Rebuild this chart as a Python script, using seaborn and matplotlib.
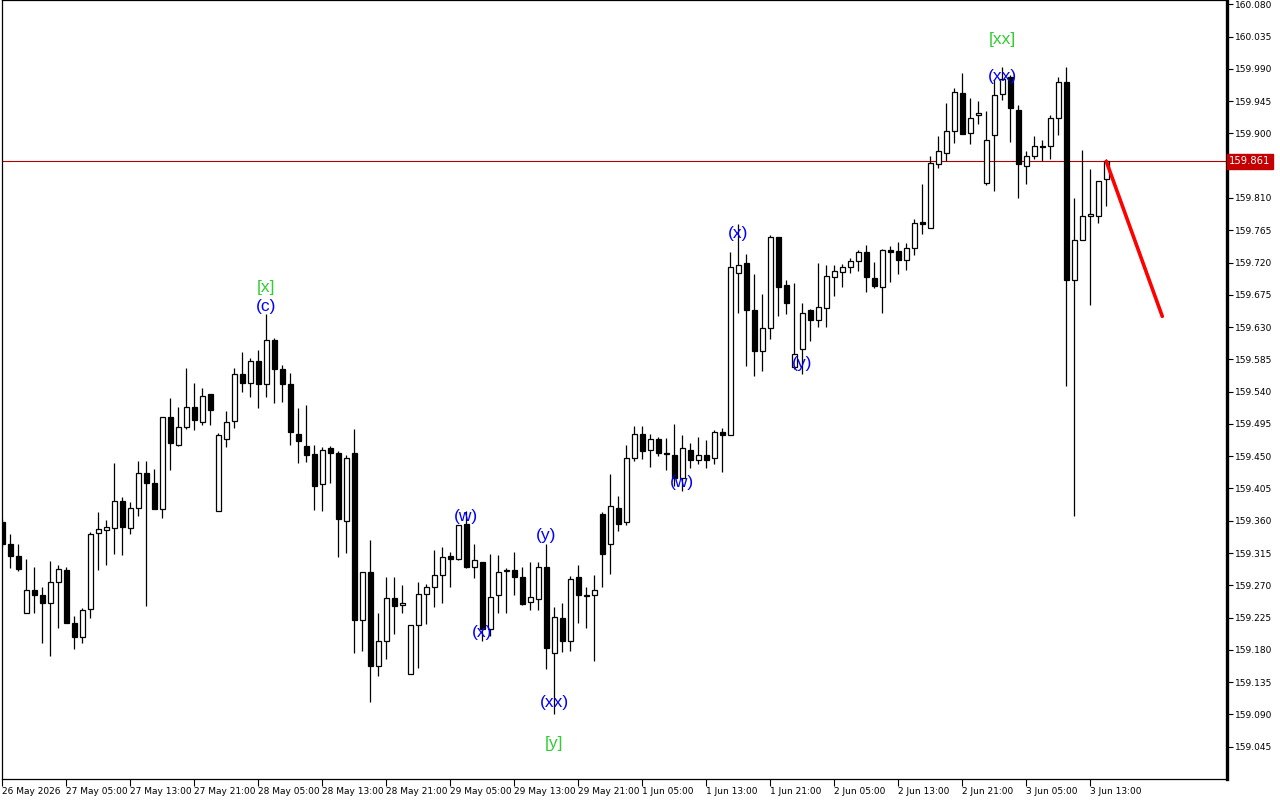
import numpy as np
import pandas as pd
import matplotlib
matplotlib.use("Agg")
import matplotlib.pyplot as plt
import matplotlib.transforms as mtransforms
import seaborn as sns

# H1 candles, oldest first
opens = [159.358, 159.328, 159.311, 159.232, 159.263, 159.257, 159.246, 159.275, 159.292, 159.218,
         159.198, 159.237, 159.343, 159.347, 159.350, 159.388, 159.350, 159.378, 159.427, 159.412,
         159.376, 159.505, 159.466, 159.491, 159.519, 159.497, 159.537, 159.374, 159.474, 159.499,
         159.564, 159.552, 159.583, 159.551, 159.612, 159.572, 159.551, 159.481, 159.464, 159.453,
         159.411, 159.461, 159.455, 159.360, 159.455, 159.222, 159.288, 159.157, 159.193, 159.253,
         159.243, 159.147, 159.215, 159.258, 159.268, 159.285, 159.311, 159.307, 159.356, 159.296,
         159.303, 159.209, 159.257, 159.291, 159.292, 159.282, 159.247, 159.251, 159.296, 159.176,
         159.225, 159.193, 159.281, 159.257, 159.257, 159.370, 159.327, 159.378, 159.358, 159.448,
         159.481, 159.459, 159.474, 159.455, 159.452, 159.420, 159.459, 159.445, 159.451, 159.447,
         159.484, 159.480, 159.705, 159.719, 159.654, 159.597, 159.629, 159.755, 159.688, 159.574,
         159.600, 159.654, 159.640, 159.657, 159.700, 159.707, 159.714, 159.722, 159.735, 159.699,
         159.686, 159.737, 159.736, 159.723, 159.740, 159.776, 159.768, 159.858, 159.873, 159.903,
         159.957, 159.900, 159.925, 159.831, 159.898, 159.955, 159.978, 159.932, 159.854, 159.868,
         159.882, 159.883, 159.922, 159.972, 159.695, 159.751, 159.785, 159.785, 159.836]
highs = [159.362, 159.341, 159.328, 159.307, 159.296, 159.268, 159.304, 159.299, 159.296, 159.227,
         159.239, 159.344, 159.372, 159.361, 159.440, 159.393, 159.386, 159.443, 159.443, 159.432,
         159.505, 159.531, 159.519, 159.573, 159.552, 159.545, 159.537, 159.483, 159.513, 159.573,
         159.595, 159.587, 159.598, 159.648, 159.615, 159.577, 159.566, 159.517, 159.521, 159.465,
         159.463, 159.464, 159.457, 159.452, 159.488, 159.289, 159.333, 159.232, 159.281, 159.282,
         159.270, 159.214, 159.275, 159.272, 159.319, 159.324, 159.316, 159.354, 159.373, 159.327,
         159.303, 159.313, 159.312, 159.294, 159.316, 159.296, 159.302, 159.303, 159.327, 159.240,
         159.246, 159.283, 159.299, 159.268, 159.285, 159.372, 159.425, 159.394, 159.465, 159.492,
         159.492, 159.481, 159.477, 159.476, 159.495, 159.480, 159.469, 159.477, 159.473, 159.487,
         159.489, 159.735, 159.774, 159.732, 159.704, 159.676, 159.758, 159.755, 159.696, 159.691,
         159.664, 159.655, 159.720, 159.717, 159.717, 159.718, 159.726, 159.737, 159.744, 159.721,
         159.739, 159.743, 159.748, 159.747, 159.780, 159.829, 159.869, 159.897, 159.942, 159.963,
         159.984, 159.949, 159.945, 159.931, 159.974, 159.992, 159.981, 159.940, 159.875, 159.897,
         159.891, 159.926, 159.979, 159.992, 159.810, 159.877, 159.850, 159.833, 159.864]
lows = [159.324, 159.294, 159.290, 159.232, 159.231, 159.189, 159.171, 159.210, 159.217, 159.181,
        159.189, 159.224, 159.291, 159.299, 159.313, 159.312, 159.341, 159.366, 159.241, 159.376,
        159.364, 159.431, 159.464, 159.488, 159.486, 159.493, 159.493, 159.374, 159.463, 159.489,
        159.539, 159.532, 159.517, 159.532, 159.524, 159.525, 159.465, 159.441, 159.442, 159.375,
        159.374, 159.412, 159.309, 159.315, 159.175, 159.178, 159.108, 159.143, 159.167, 159.202,
        159.231, 159.147, 159.155, 159.216, 159.240, 159.246, 159.268, 159.306, 159.294, 159.280,
        159.193, 159.200, 159.231, 159.231, 159.256, 159.243, 159.235, 159.235, 159.154, 159.090,
        159.177, 159.178, 159.217, 159.210, 159.164, 159.268, 159.286, 159.346, 159.354, 159.444,
        159.446, 159.435, 159.450, 159.431, 159.409, 159.402, 159.433, 159.439, 159.433, 159.439,
        159.428, 159.480, 159.650, 159.576, 159.562, 159.569, 159.613, 159.645, 159.648, 159.572,
        159.564, 159.610, 159.630, 159.630, 159.674, 159.686, 159.706, 159.708, 159.679, 159.685,
        159.650, 159.693, 159.704, 159.710, 159.730, 159.760, 159.768, 159.852, 159.861, 159.887,
        159.899, 159.885, 159.913, 159.828, 159.820, 159.946, 159.888, 159.810, 159.830, 159.864,
        159.861, 159.865, 159.898, 159.548, 159.366, 159.751, 159.661, 159.775, 159.799]
closes = [159.328, 159.311, 159.293, 159.263, 159.256, 159.245, 159.275, 159.293, 159.218, 159.198,
          159.236, 159.342, 159.349, 159.352, 159.387, 159.351, 159.378, 159.427, 159.413, 159.376,
          159.504, 159.468, 159.491, 159.519, 159.500, 159.534, 159.514, 159.479, 159.498, 159.565,
          159.552, 159.583, 159.551, 159.612, 159.571, 159.551, 159.484, 159.471, 159.452, 159.409,
          159.459, 159.455, 159.362, 159.448, 159.222, 159.288, 159.157, 159.193, 159.253, 159.241,
          159.246, 159.214, 159.258, 159.268, 159.285, 159.310, 159.307, 159.354, 159.295, 159.306,
          159.209, 159.254, 159.289, 159.290, 159.281, 159.244, 159.254, 159.296, 159.182, 159.226,
          159.193, 159.279, 159.256, 159.255, 159.264, 159.313, 159.380, 159.355, 159.448, 159.481,
          159.457, 159.474, 159.455, 159.453, 159.420, 159.461, 159.445, 159.452, 159.445, 159.484,
          159.480, 159.714, 159.717, 159.654, 159.597, 159.629, 159.755, 159.686, 159.663, 159.592,
          159.650, 159.640, 159.658, 159.701, 159.708, 159.714, 159.722, 159.735, 159.700, 159.687,
          159.738, 159.735, 159.723, 159.740, 159.775, 159.774, 159.859, 159.875, 159.903, 159.958,
          159.899, 159.922, 159.928, 159.891, 159.953, 159.976, 159.935, 159.857, 159.868, 159.882,
          159.881, 159.922, 159.972, 159.696, 159.751, 159.785, 159.788, 159.833, 159.861]

time_labels = ["26 May 2026", "27 May 05:00", "27 May 13:00", "27 May 21:00", "28 May 05:00",
               "28 May 13:00", "28 May 21:00", "29 May 05:00", "29 May 13:00", "29 May 21:00",
               "1 Jun 05:00", "1 Jun 13:00", "1 Jun 21:00", "2 Jun 05:00", "2 Jun 13:00",
               "2 Jun 21:00", "3 Jun 05:00", "3 Jun 13:00"]
time_label_bars = list(range(0, 137, 8))

price_ticks = [159.045 + 0.045 * k for k in range(24)]
bid_price = 159.861

# forecast line (bar index, price)
trend_bars = [138, 145]
trend_prices = [159.861, 159.645]

# wave labels
wave_text = ["[x]", "(c)", "(w)", "(x)", "(y)", "(xx)", "[y]", "(w)", "(x)", "(y)", "(xx)", "[xx]"]
wave_bars = [33, 33, 58, 60, 68, 69, 69, 85, 92, 100, 125, 125]
wave_prices = [159.685, 159.659, 159.366, 159.204, 159.339, 159.107, 159.050,
               159.413, 159.761, 159.579, 159.980, 160.031]
wave_colors = ["#33cc33", "#0000ff", "#0000ff", "#0000ff", "#0000ff", "#0000ff", "#33cc33",
               "#0000ff", "#0000ff", "#0000ff", "#0000ff", "#33cc33"]

df = pd.DataFrame({"open": opens, "high": highs, "low": lows, "close": closes})
df["bar"] = np.arange(len(df))
df["up"] = df["close"] >= df["open"]

sns.set_theme(style="white")
plt.rcParams["font.family"] = ["DejaVu Sans"]

fig = plt.figure(figsize=(12.8, 8), dpi=100)
ax = fig.add_axes([2 / 1280, 21 / 800, 1225 / 1280, 779 / 800])
ax.set_facecolor("white")

ax.vlines(df["bar"], df["low"], df["high"], color="black", lw=0.9, zorder=2)
body_bottom = df[["open", "close"]].min(axis=1)
body_h = (df["close"] - df["open"]).abs().clip(lower=0.0004)
ax.bar(df["bar"], body_h, bottom=body_bottom, width=0.62,
       color=np.where(df["up"], "white", "black"), edgecolor="black", linewidth=0.9, zorder=3)

ax.axhline(bid_price, color="#b00000", lw=0.8, zorder=1)

sns.lineplot(x=trend_bars, y=trend_prices, ax=ax, color="#ff0000", lw=2.6, zorder=4)

for t, b, p, c in zip(wave_text, wave_bars, wave_prices, wave_colors):
    ax.text(b, p, t, color=c, fontsize=12.5, family="Liberation Sans",
            ha="center", va="center", zorder=5)

ax.set_xlim(-0.04, 153.09)
ax.set_ylim(159.000, 160.086)

ax.yaxis.tick_right()
ax.set_yticks(price_ticks)
ax.set_yticklabels([f"{v:.3f}" for v in price_ticks])
ax.set_xticks(time_label_bars)
ax.set_xticklabels(time_labels)
for lab in ax.get_xticklabels():
    lab.set_ha("left")
ax.tick_params(axis="y", which="both", direction="out", length=4, width=0.8,
               labelsize=6.5, pad=2, colors="black", right=True, left=False)
ax.tick_params(axis="x", which="both", direction="out", length=5, width=0.8,
               labelsize=6.5, pad=1, colors="black", bottom=True)

for s in ["left", "top", "bottom"]:
    ax.spines[s].set_color("black")
    ax.spines[s].set_linewidth(0.9)
ax.spines["right"].set_color("black")
ax.spines["right"].set_linewidth(2.4)

# bid price tag on the right scale, covering the tick label beneath it
trans = mtransforms.blended_transform_factory(ax.transAxes, ax.transData)
ax.text(1.0018, bid_price, f"{bid_price:.3f}", transform=trans, fontsize=7.2, color="white",
        ha="left", va="center", zorder=6, clip_on=False,
        bbox=dict(boxstyle="square,pad=0.22", fc="#c40000", ec="#c40000"))

fig.savefig("out.png", dpi=100, facecolor="white")
